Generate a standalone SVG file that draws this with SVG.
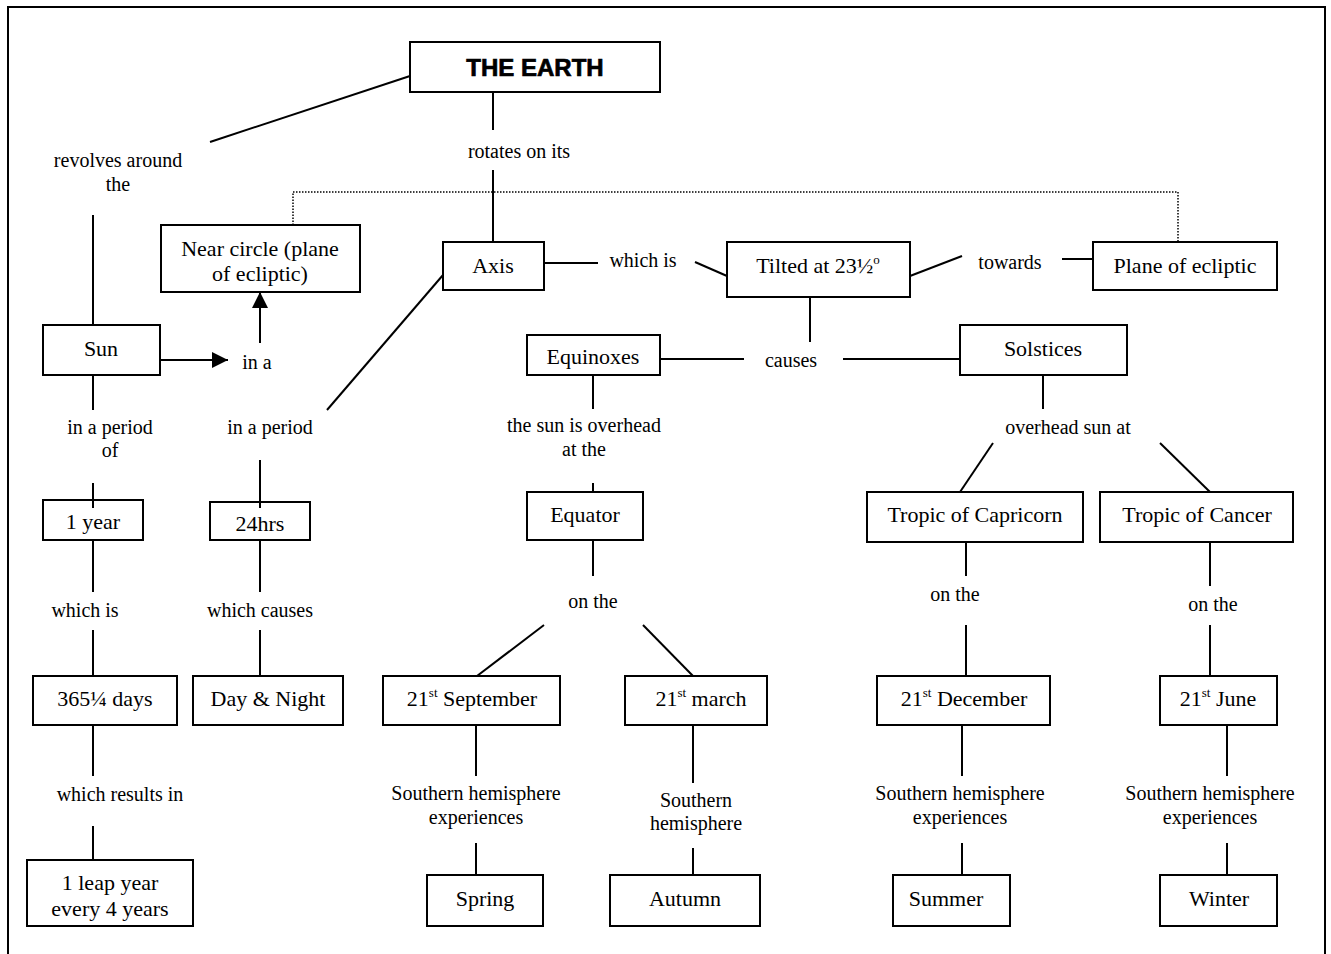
<svg xmlns="http://www.w3.org/2000/svg" width="1331" height="954" viewBox="0 0 1331 954">
<defs>
<style>
.bx{fill:none;stroke:#000;stroke-width:2}
.nt{font-family:"Liberation Serif","Times New Roman",serif;font-size:22px;fill:#000;text-anchor:middle}
.lb{font-family:"Liberation Serif","Times New Roman",serif;font-size:20px;fill:#000;text-anchor:middle}
.ln{stroke:#000;stroke-width:2;fill:none}
.dot{stroke:#000;stroke-width:1.5;fill:none;stroke-dasharray:1.5 1.5}
.ttl{font-family:"Liberation Sans",Arial,sans-serif;font-size:24px;font-weight:900;fill:#000;stroke:#000;stroke-width:0.7;text-anchor:middle}
</style>
<marker id="ah" viewBox="0 0 10 10" refX="10" refY="5" markerWidth="16" markerHeight="16" markerUnits="userSpaceOnUse" orient="auto">
<path d="M0,0 L10,5 L0,10 z" fill="#000"/>
</marker>
</defs>
<rect width="1331" height="954" fill="#fff"/>
<path class="ln" d="M8,960 V7 H1325 V960"/>
<g id="connectors">
<line class="ln" x1="410" y1="76" x2="210" y2="142"/>
<line class="ln" x1="93" y1="215" x2="93" y2="325"/>
<line class="ln" x1="160" y1="360" x2="228" y2="360" marker-end="url(#ah)"/>
<line class="ln" x1="260" y1="343" x2="260" y2="292" marker-end="url(#ah)"/>
<path class="dot" d="M293,225 V192 H1178 V242"/>
<line class="ln" x1="493" y1="92" x2="493" y2="130"/>
<line class="ln" x1="493" y1="170" x2="493" y2="242"/>
<line class="ln" x1="544" y1="263" x2="598" y2="263"/>
<line class="ln" x1="695" y1="262" x2="727" y2="276"/>
<line class="ln" x1="910" y1="276" x2="962" y2="256"/>
<line class="ln" x1="1062" y1="259" x2="1093" y2="259"/>
<line class="ln" x1="443" y1="275" x2="327" y2="410"/>
<line class="ln" x1="260" y1="460" x2="260" y2="508"/>
<line class="ln" x1="260" y1="540" x2="260" y2="592"/>
<line class="ln" x1="260" y1="630" x2="260" y2="676"/>
<line class="ln" x1="93" y1="375" x2="93" y2="410"/>
<line class="ln" x1="93" y1="483" x2="93" y2="508"/>
<line class="ln" x1="93" y1="540" x2="93" y2="592"/>
<line class="ln" x1="93" y1="630" x2="93" y2="676"/>
<line class="ln" x1="93" y1="725" x2="93" y2="776"/>
<line class="ln" x1="93" y1="826" x2="93" y2="860"/>
<line class="ln" x1="810" y1="297" x2="810" y2="342"/>
<line class="ln" x1="660" y1="359" x2="744" y2="359"/>
<line class="ln" x1="843" y1="359" x2="960" y2="359"/>
<line class="ln" x1="593" y1="375" x2="593" y2="409"/>
<line class="ln" x1="593" y1="483" x2="593" y2="492"/>
<line class="ln" x1="593" y1="540" x2="593" y2="576"/>
<line class="ln" x1="544" y1="625" x2="477" y2="676"/>
<line class="ln" x1="643" y1="625" x2="693" y2="676"/>
<line class="ln" x1="476" y1="725" x2="476" y2="776"/>
<line class="ln" x1="476" y1="843" x2="476" y2="875"/>
<line class="ln" x1="693" y1="725" x2="693" y2="783"/>
<line class="ln" x1="693" y1="848" x2="693" y2="875"/>
<line class="ln" x1="1043" y1="375" x2="1043" y2="409"/>
<line class="ln" x1="993" y1="443" x2="960" y2="492"/>
<line class="ln" x1="1160" y1="443" x2="1210" y2="492"/>
<line class="ln" x1="966" y1="542" x2="966" y2="576"/>
<line class="ln" x1="966" y1="625" x2="966" y2="676"/>
<line class="ln" x1="1210" y1="542" x2="1210" y2="586"/>
<line class="ln" x1="1210" y1="625" x2="1210" y2="676"/>
<line class="ln" x1="962" y1="725" x2="962" y2="776"/>
<line class="ln" x1="962" y1="843" x2="962" y2="875"/>
<line class="ln" x1="1227" y1="725" x2="1227" y2="776"/>
<line class="ln" x1="1227" y1="843" x2="1227" y2="875"/>
</g>
<g id="labels">
<text class="lb" x="118" y="167">revolves around</text>
<text class="lb" x="118" y="191">the</text>
<text class="lb" x="519" y="158">rotates on its</text>
<text class="lb" x="643" y="267">which is</text>
<text class="lb" x="1010" y="269">towards</text>
<text class="lb" x="257" y="369">in a</text>
<text class="lb" x="110" y="434">in a period</text>
<text class="lb" x="110" y="457">of</text>
<text class="lb" x="270" y="434">in a period</text>
<text class="lb" x="85" y="617">which is</text>
<text class="lb" x="260" y="617">which causes</text>
<text class="lb" x="120" y="801">which results in</text>
<text class="lb" x="791" y="367">causes</text>
<text class="lb" x="584" y="432">the sun is overhead</text>
<text class="lb" x="584" y="456">at the</text>
<text class="lb" x="593" y="608">on the</text>
<text class="lb" x="1068" y="434">overhead sun at</text>
<text class="lb" x="955" y="601">on the</text>
<text class="lb" x="1213" y="611">on the</text>
<text class="lb" x="476" y="800">Southern hemisphere</text>
<text class="lb" x="476" y="824">experiences</text>
<text class="lb" x="696" y="807">Southern</text>
<text class="lb" x="696" y="830">hemisphere</text>
<text class="lb" x="960" y="800">Southern hemisphere</text>
<text class="lb" x="960" y="824">experiences</text>
<text class="lb" x="1210" y="800">Southern hemisphere</text>
<text class="lb" x="1210" y="824">experiences</text>
</g>
<g id="earth"><rect class="bx" x="410" y="42" width="250" height="50"/><text class="ttl" x="535" y="76">THE EARTH</text></g>
<g id="near-circle"><rect class="bx" x="161" y="225" width="199" height="67"/><text class="nt" x="260" y="256">Near circle (plane</text><text class="nt" x="260" y="281">of ecliptic)</text></g>
<g id="axis"><rect class="bx" x="443" y="242" width="101" height="48"/><text class="nt" x="493" y="273">Axis</text></g>
<g id="tilted"><rect class="bx" x="727" y="242" width="183" height="55"/><text class="nt" x="818" y="273">Tilted at 23½<tspan font-size="13" dy="-9">o</tspan></text></g>
<g id="plane"><rect class="bx" x="1093" y="242" width="184" height="48"/><text class="nt" x="1185" y="273">Plane of ecliptic</text></g>
<g id="sun"><rect class="bx" x="43" y="325" width="117" height="50"/><text class="nt" x="101" y="356">Sun</text></g>
<g id="equinoxes"><rect class="bx" x="527" y="335" width="133" height="40"/><text class="nt" x="593" y="364">Equinoxes</text></g>
<g id="solstices"><rect class="bx" x="960" y="325" width="167" height="50"/><text class="nt" x="1043" y="356">Solstices</text></g>
<g id="one-year"><rect class="bx" x="43" y="500" width="100" height="40"/><text class="nt" x="93" y="529">1 year</text></g>
<g id="hrs"><rect class="bx" x="210" y="502" width="100" height="38"/><text class="nt" x="260" y="531">24hrs</text></g>
<g id="equator"><rect class="bx" x="527" y="492" width="116" height="48"/><text class="nt" x="585" y="522">Equator</text></g>
<g id="capricorn"><rect class="bx" x="867" y="492" width="216" height="50"/><text class="nt" x="975" y="522">Tropic of Capricorn</text></g>
<g id="cancer"><rect class="bx" x="1100" y="492" width="193" height="50"/><text class="nt" x="1197" y="522">Tropic of Cancer</text></g>
<g id="days"><rect class="bx" x="33" y="676" width="144" height="49"/><text class="nt" x="105" y="706">365¼ days</text></g>
<g id="day-night"><rect class="bx" x="193" y="676" width="150" height="49"/><text class="nt" x="268" y="706">Day &amp; Night</text></g>
<g id="september"><rect class="bx" x="383" y="676" width="177" height="49"/><text class="nt" x="472" y="706">21<tspan font-size="13" dy="-9">st</tspan><tspan dy="9"> September</tspan></text></g>
<g id="march"><rect class="bx" x="625" y="676" width="142" height="49"/><text class="nt" x="701" y="706">21<tspan font-size="13" dy="-9">st</tspan><tspan dy="9"> march</tspan></text></g>
<g id="december"><rect class="bx" x="877" y="676" width="173" height="49"/><text class="nt" x="964" y="706">21<tspan font-size="13" dy="-9">st</tspan><tspan dy="9"> December</tspan></text></g>
<g id="june"><rect class="bx" x="1160" y="676" width="117" height="49"/><text class="nt" x="1218" y="706">21<tspan font-size="13" dy="-9">st</tspan><tspan dy="9"> June</tspan></text></g>
<g id="leap-year"><rect class="bx" x="27" y="860" width="166" height="66"/><text class="nt" x="110" y="890">1 leap year</text><text class="nt" x="110" y="916">every 4 years</text></g>
<g id="spring"><rect class="bx" x="427" y="875" width="116" height="51"/><text class="nt" x="485" y="906">Spring</text></g>
<g id="autumn"><rect class="bx" x="610" y="875" width="150" height="51"/><text class="nt" x="685" y="906">Autumn</text></g>
<g id="summer"><rect class="bx" x="893" y="875" width="117" height="51"/><text class="nt" x="946" y="906">Summer</text></g>
<g id="winter"><rect class="bx" x="1160" y="875" width="117" height="51"/><text class="nt" x="1219" y="906">Winter</text></g>
</svg>
